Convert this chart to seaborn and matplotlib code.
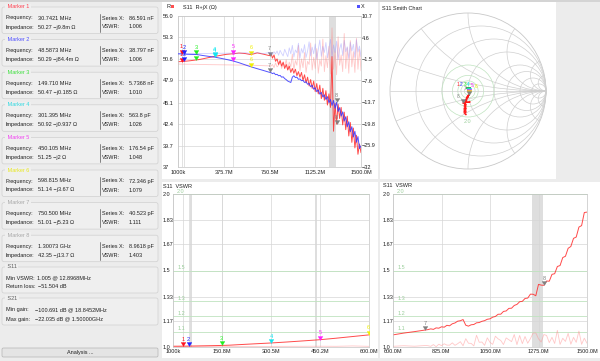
import numpy as np
import matplotlib
matplotlib.use("Agg")
import matplotlib.pyplot as plt
from matplotlib.patches import Circle, Rectangle, FancyBboxPatch
from matplotlib.path import Path
import seaborn as sns

# ---------------- data ----------------
freq_mhz = [1, 15, 30.7, 48.6, 75, 100, 125, 149.7, 175, 200, 250, 301.4, 350, 400, 450.1,
            500, 550, 598.8, 650, 700, 750.5,
            762.5, 775, 787.5, 800, 812.5, 825, 837.5, 850, 862.5, 875,
            887.5, 900, 912.5, 925, 937.5, 950, 962.5, 975, 987.5, 1000,
            1012.5, 1025, 1037.5, 1050, 1062.5, 1075, 1087.5, 1100, 1112.5, 1125,
            1137.5, 1150, 1162.5, 1175, 1187.5, 1200, 1212.5, 1225, 1237.5, 1250,
            1262.5, 1275, 1287.5, 1300, 1312.5, 1325, 1337.5, 1350, 1362.5, 1375,
            1387.5, 1400, 1412.5, 1425, 1437.5, 1450, 1462.5, 1475, 1487.5, 1500]

r_ohm = [50.25, 50.26, 50.27, 50.29, 50.33, 50.37, 50.42, 50.47, 50.52, 50.6, 50.76, 50.92, 51.05,
         51.18, 51.25, 51.34, 51.28, 51.14, 51.36, 51.2, 51.01,
         51.3, 50.7, 51.1, 50.3, 50.6, 49.9, 50.4, 49.7, 50.2, 49.4,
         49.9, 49.2, 49.7, 48.9, 49.4, 48.8, 49.3, 48.5, 49.0, 48.3,
         48.9, 47.9, 48.6, 47.6, 48.3, 47.2, 48.0, 46.9, 47.8, 46.5,
         47.5, 46.2, 47.3, 45.6, 46.9, 45.4, 46.6, 44.8, 46.2, 44.5,
         50.9, 41.5, 45.0, 42.4, 44.9, 43.1, 44.5, 42.3, 43.9, 41.7,
         43.4, 40.9, 42.6, 40.1, 41.9, 39.4, 41.0, 38.6, 39.9, 38.8]

x_ohm = [0.0, -0.005, -0.01, -0.084, -0.12, -0.15, -0.17, -0.185, -0.3, -0.45, -0.7, -0.94, -1.25,
         -1.6, -2.0, -2.5, -3.1, -3.67, -4.2, -4.7, -5.23,
         -5.3, -5.6, -5.4, -5.9, -5.8, -6.2, -6.1, -6.6, -6.5, -7.0,
         -7.3, -7.7, -7.9, -8.1, -6.6, -6.2, -6.7, -6.6, -7.2, -7.1,
         -7.6, -7.5, -8.1, -7.9, -8.6, -8.4, -9.3, -8.9, -10.0, -9.6,
         -10.7, -10.2, -11.4, -10.9, -12.2, -11.6, -12.9, -12.1, -13.8, -12.9,
         -14.6, -13.2, -15.4, -13.7, -16.3, -15.2, -17.6, -16.4, -19.0, -17.8,
         -20.6, -19.2, -22.0, -20.6, -23.5, -21.9, -25.0, -23.4, -26.8, -26.0]

# reference sweep (faint traces)
r_ref = [49.95, 49.95, 49.94, 49.94, 49.93, 49.93, 49.92, 49.92, 49.91, 49.9, 49.88, 49.87, 49.86,
         49.85, 49.84, 49.83, 49.82, 49.8, 49.78, 49.75, 49.72,
         49.7, 49.9, 49.5, 50.1, 49.6, 49.8, 50.3, 49.4, 50.0, 49.7,
         50.5, 49.3, 50.2, 49.6, 51.2, 49.2, 50.4, 49.8, 52.3, 49.1,
         50.6, 49.5, 51.4, 48.9, 50.3, 49.9, 52.6, 49.2, 50.8, 49.4,
         51.9, 48.8, 50.5, 49.7, 53.1, 49.0, 51.0, 49.5, 52.2, 48.7,
         54.5, 49.3, 51.6, 48.6, 53.4, 49.8, 51.1, 49.0, 53.8, 49.4,
         52.0, 48.8, 52.9, 49.6, 51.5, 48.9, 53.2, 49.3, 51.8, 49.1]

x_ref = [0.02, 0.03, 0.04, 0.05, 0.06, 0.07, 0.08, 0.08, 0.09, 0.1, 0.12, 0.14, 0.16,
         0.18, 0.2, 0.15, 0.3, 0.1, 0.35, 0.05, 0.4,
         0.3, -0.2, 0.6, 0.0, 0.8, -0.4, 1.0, 0.1, -0.6, 1.3,
         0.2, -0.8, 1.7, 0.0, 2.4, -0.9, 1.1, 0.3, 3.0, -1.2,
         1.5, 0.2, 2.6, -1.0, 0.8, 3.4, -0.6, 1.9, 0.0, 2.8,
         -1.4, 1.2, 3.9, -0.7, 2.1, 0.4, 3.2, -1.1, 1.6, 4.1,
         -0.9, 2.5, 0.3, 3.6, -1.6, 1.4, 2.9, -0.5, 3.8, 0.6,
         2.0, -1.3, 3.3, 0.8, 2.7, -1.0, 4.0, 0.5, 2.2, -0.8]

marker_names = ["1", "2", "3", "4", "5", "6", "7", "8"]
marker_colors = ["#ff1020", "#2020ff", "#20f020", "#10e8f0", "#ff20ff", "#f0f000", "#808080", "#808080"]
marker_title_colors = ["#ff4050", "#5050ff", "#40e040", "#30d8e0", "#f040f0", "#e8e820", "#a8a8a8", "#a8a8a8"]
marker_freq = [30.7421, 48.5873, 149.710, 301.395, 450.105, 598.815, 750.500, 1300.73]
marker_r = [50.27, 50.29, 50.47, 50.92, 51.25, 51.14, 51.01, 42.35]
marker_x = [-0.0098, -0.0844, -0.185, -0.937, -2.0, -3.67, -5.23, -13.7]
marker_vswr = [1.006, 1.006, 1.010, 1.026, 1.048, 1.079, 1.111, 1.403]
marker_freq_text = ["30.7421 MHz", "48.5873 MHz", "149.710 MHz", "301.395 MHz",
                    "450.105 MHz", "598.815 MHz", "750.500 MHz", "1.30073 GHz"]
marker_imp_text = ["50.27 \u2212j9.8m \u03a9", "50.29 \u2212j84.4m \u03a9", "50.47 \u2212j0.185 \u03a9",
                   "50.92 \u2212j0.937 \u03a9", "51.25 \u2212j2 \u03a9", "51.14 \u2212j3.67 \u03a9",
                   "51.01 \u2212j5.23 \u03a9", "42.35 \u2212j13.7 \u03a9"]
marker_series_text = ["86.591 nF", "38.797 nF", "5.7368 nF", "563.8 pF",
                      "176.54 pF", "72.346 pF", "40.523 pF", "8.9618 pF"]
marker_vswr_text = ["1.006", "1.006", "1.010", "1.026", "1.048", "1.079", "1.111", "1.403"]

rx_xticks = [1, 375.75, 750.5, 1125.25, 1500]
rx_xlabels = ["1000k", "375.7M", "750.5M", "1125.2M", "1500.0M"]
r_ticks = [37, 39.7, 42.4, 45.1, 47.9, 50.6, 53.3, 56.0]
r_labels = ["37", "39.7", "42.4", "45.1", "47.9", "50.6", "53.3", "56.0"]
x_ticks = [-32, -25.9, -19.8, -13.7, -7.6, -1.5, 4.6, 10.7]
x_labels = ["\u221232", "\u221225.9", "\u221219.8", "\u221213.7", "\u22127.6", "\u22121.5", "4.6", "10.7"]

vswr_ticks = [1.0, 1.17, 1.33, 1.5, 1.67, 1.83, 2.0]
vswr_labels = ["1.0", "1.17", "1.33", "1.5", "1.67", "1.83", "2.0"]
vswr_ref_lines = [1.1, 1.2, 1.3, 1.5, 2.0]
v1_xticks = [1, 150.75, 300.5, 450.25, 600]
v1_xlabels = ["1000k", "150.8M", "300.5M", "450.2M", "600.0M"]
v2_xticks = [600, 825, 1050, 1275, 1500]
v2_xlabels = ["600.0M", "825.0M", "1050.0M", "1275.0M", "1500.0M"]

smith_r = [0.2, 0.5, 1, 2, 3, 5, 10]
smith_x = [0.2, 0.5, 1, 2, 5, 10]

# ---------------- style ----------------
sns.set_theme(style="white")
plt.rcParams['font.family'] = ['Liberation Sans', 'DejaVu Sans']

BG = "#ececec"
BOX_FC = "#efefef"
BOX_EC = "#d0d0d0"
GRID = "#d6d6d6"
SPINE = "#c4c4c4"
GREEN = "#bfe3bf"
GREEN_TXT = "#9ccf9c"
TXT = "#202020"
FS = 4.0
W, H = 600, 361

fig = plt.figure(figsize=(6, 3.61), dpi=100, facecolor=BG)


def px_axes(x0, y0, x1, y1):
    return fig.add_axes([x0 / W, 1 - y1 / H, (x1 - x0) / W, (y1 - y0) / H])


def vswr_of(r, x):
    z = np.asarray(r) + 1j * np.asarray(x)
    g = np.abs((z - 50) / (z + 50))
    return (1 + g) / (1 - g)


def gamma_of(r, x):
    z = np.asarray(r) + 1j * np.asarray(x)
    return (z - 50) / (z + 50)


tri = Path([(-0.6, 1.0), (0.6, 1.0), (0.0, 0.0), (-0.6, 1.0)],
           [Path.MOVETO, Path.LINETO, Path.LINETO, Path.CLOSEPOLY])


def draw_markers(ax, xs, ys, idx, dx=None, fs=FS):
    for k, i in enumerate(idx):
        c = marker_colors[i]
        ax.plot([xs[i]], [ys[i]], ls="none", marker=tri, ms=5.8, mfc=c, mec=c, mew=0.2, zorder=6)
        off = 0 if dx is None else dx[k]
        ax.annotate(marker_names[i], (xs[i], ys[i]), xytext=(off, 3.2), textcoords="offset points",
                    ha="center", va="bottom", fontsize=fs, color=c, zorder=7)


def style_chart(ax, xlim, xticks, xlabels, ylim, yticks, ylabels, ypad, xpad):
    ax.set_xlim(xlim)
    ax.set_ylim(ylim)
    ax.set_xticks(xticks, xlabels)
    ax.set_yticks(yticks, ylabels, ha="left")
    ax.tick_params(axis="both", length=0, labelsize=FS, labelcolor=TXT)
    ax.tick_params(axis="y", pad=ypad)
    ax.tick_params(axis="x", pad=xpad)
    ax.set_xlabel("")
    ax.set_ylabel("")
    ax.grid(True, color=GRID, lw=0.5)
    ax.set_axisbelow(True)
    for s in ax.spines.values():
        s.set_color(SPINE)
        s.set_linewidth(0.5)


def line(ax, x, y, color, lw, alpha=1.0):
    sns.lineplot(x=x, y=y, ax=ax, color=color, linewidth=lw, alpha=alpha,
                 estimator=None, sort=False, legend=False)


vswr_main = vswr_of(r_ohm, x_ohm)
vswr_refs = vswr_of(r_ref, x_ref)

# ---------------- background + left panel ----------------
bg = fig.add_axes([0, 0, 1, 1])
bg.set_xlim(0, W)
bg.set_ylim(H, 0)
bg.axis("off")
bg.add_patch(Rectangle((0, 0), W, 1.5, fc="#d4d4d4", ec="none"))
bg.add_patch(Rectangle((162, 2), 216, 177, fc="white", ec="none"))
bg.add_patch(Rectangle((380, 2), 176, 177, fc="white", ec="none"))
bg.add_patch(Rectangle((162, 182), 216, 176, fc="white", ec="none"))


def group_box(y, h, title, tcolor):
    bg.add_patch(FancyBboxPatch((2, y), 156, h, boxstyle="round,pad=0,rounding_size=2",
                                fc=BOX_FC, ec=BOX_EC, lw=0.5))
    bg.text(5.5, y, " " + title + " ", color=tcolor, fontsize=FS, va="center", ha="left",
            bbox=dict(fc=BOX_FC, ec="none", pad=0.2))


for i in range(8):
    ty = 7 + 32.6 * i
    group_box(ty, 26.5, f"Marker {i + 1}", marker_title_colors[i])
    bg.text(6, ty + 11, "Frequency:", fontsize=FS, color=TXT, va="center")
    bg.text(37.5, ty + 11, marker_freq_text[i], fontsize=FS, color=TXT, va="center")
    bg.text(6, ty + 20, "Impedance:", fontsize=FS, color=TXT, va="center")
    bg.text(37.5, ty + 20, marker_imp_text[i], fontsize=FS, color=TXT, va="center")
    bg.plot([100, 100], [ty + 6.5, ty + 24.5], color="#707070", lw=0.6)
    bg.text(102, ty + 11, "Series X:", fontsize=FS, color=TXT, va="center")
    bg.text(129, ty + 11, marker_series_text[i], fontsize=FS, color=TXT, va="center")
    bg.text(102, ty + 20, "VSWR:", fontsize=FS, color=TXT, va="center")
    bg.text(129, ty + 20, marker_vswr_text[i], fontsize=FS, color=TXT, va="center")

group_box(267, 26, "S11", "#606060")
bg.text(6, 278, "Min VSWR:", fontsize=FS, color=TXT, va="center")
bg.text(37, 278, "1.005 @ 12.8968MHz", fontsize=FS, color=TXT, va="center")
bg.text(6, 287, "Return loss:", fontsize=FS, color=TXT, va="center")
bg.text(37.5, 287, "\u221251.504 dB", fontsize=FS, color=TXT, va="center")

group_box(298, 27, "S21", "#606060")
bg.text(6, 310, "Min gain:", fontsize=FS, color=TXT, va="center")
bg.text(35, 310, "\u2212100.691 dB @ 18.8452MHz", fontsize=FS, color=TXT, va="center")
bg.text(6, 319, "Max gain:", fontsize=FS, color=TXT, va="center")
bg.text(35, 319, "\u221222.035 dB @ 1.50000GHz", fontsize=FS, color=TXT, va="center")

bg.add_patch(FancyBboxPatch((2, 348), 156, 9, boxstyle="round,pad=0,rounding_size=1.5",
                            fc="#e4e4e4", ec="#b4b4b4", lw=0.5))
bg.text(80, 352.5, "Analysis ...", fontsize=FS, color=TXT, va="center", ha="center")

# chart headers
bg.text(166.5, 7, "R", fontsize=FS, color=TXT, va="center")
bg.add_patch(Rectangle((170.5, 5.3), 3, 3, fc="#ff5050", ec="none"))
bg.text(183, 7, "S11  R+jX (\u03a9)", fontsize=FS, color=TXT, va="center")
bg.add_patch(Rectangle((357.3, 5.3), 3, 3, fc="#5050ff", ec="none"))
bg.text(360.5, 7, "X", fontsize=FS, color=TXT, va="center")
bg.text(382, 8, "S11 Smith Chart", fontsize=FS, color=TXT, va="center")
bg.text(163, 186, "S11  VSWR", fontsize=FS, color=TXT, va="center")

# ---------------- R + jX chart ----------------
ax_rx = px_axes(178, 16, 361, 167)
ax_rx.set_facecolor("white")
for f in marker_freq[:2] + [marker_freq[4]]:
    ax_rx.axvline(f, color=GRID, lw=0.5, zorder=0.5)
ax_rx.axvspan(1238, 1294, color="#dedede", lw=0, zorder=0.4)
line(ax_rx, freq_mhz, r_ref, "#ff9090", 0.6, alpha=0.5)
line(ax_rx, freq_mhz, r_ohm, "#ff2a2a", 0.7, alpha=0.85)
style_chart(ax_rx, (1, 1500), rx_xticks, rx_xlabels, (37, 56), r_ticks, r_labels, 10.8, 2.2)
draw_markers(ax_rx, marker_freq, marker_r, range(8))

ax_x = ax_rx.twinx()
line(ax_x, freq_mhz, x_ref, "#8a8aff", 0.6, alpha=0.4)
line(ax_x, freq_mhz, x_ohm, "#3434ff", 0.7, alpha=0.85)
ax_x.set_ylim(-32, 10.7)
ax_x.set_yticks(x_ticks, x_labels)
ax_x.tick_params(axis="y", length=0, labelsize=FS, labelcolor=TXT, pad=0.7)
ax_x.set_ylabel("")
for s in ax_x.spines.values():
    s.set_visible(False)
draw_markers(ax_x, marker_freq, marker_x, range(8))

# ---------------- Smith chart ----------------
ax_s = px_axes(380, 3, 556, 178)
ax_s.set_xlim(-88 / 78, 88 / 78)
ax_s.set_ylim(-87 / 78, 88 / 78)
ax_s.axis("off")
unit = Circle((0, 0), 1, fill=False, ec="#c8c8c8", lw=0.6)
ax_s.add_patch(unit)
ax_s.plot([-1, 1], [0, 0], color="#cfcfcf", lw=0.5)
for r in smith_r:
    ax_s.add_patch(Circle((r / (1 + r), 0), 1 / (1 + r), fill=False, ec="#cfcfcf", lw=0.5))
for xv in smith_x:
    for sgn in (1, -1):
        arc = Circle((1, sgn / xv), 1 / xv, fill=False, ec="#cfcfcf", lw=0.5)
        ax_s.add_patch(arc)
        arc.set_clip_path(unit)
for v in vswr_ref_lines:
    g = (v - 1) / (v + 1)
    ax_s.add_patch(Circle((0, 0), g, fill=False, ec=GREEN, lw=0.5))
ax_s.text(0, -0.39, "2.0", fontsize=FS, color=GREEN_TXT, ha="center", va="center")
g_ref = gamma_of(r_ref, x_ref)
g_main = gamma_of(r_ohm, x_ohm)
line(ax_s, g_ref.real, g_ref.imag, "#ff9090", 0.5, alpha=0.5)
line(ax_s, g_main.real, g_main.imag, "#ff1818", 0.7)
g_mk = gamma_of(marker_r, marker_x)
# labels of the markers bunched at the centre are spread side by side
draw_markers(ax_s, list(g_mk.real), list(g_mk.imag), range(8),
             dx=[-7.5, -5.0, -2.5, 0.0, 2.5, 5.0, -3.0, -4.0], fs=3.4)
ax_s.set_xlabel("")
ax_s.set_ylabel("")

# ---------------- VSWR 1 MHz - 600 MHz ----------------
ax_v1 = px_axes(173, 194, 369, 347)
ax_v1.set_facecolor("white")
for f in marker_freq[:3]:
    ax_v1.axvline(f, color=GRID, lw=0.5, zorder=0.5)
ax_v1.axvspan(53, 58, color="#dedede", lw=0, zorder=0.4)
ax_v1.axvspan(434, 441, color="#dedede", lw=0, zorder=0.4)
for v in vswr_ref_lines:
    ax_v1.axhline(v, color=GREEN, lw=0.6, zorder=0.8)
    ax_v1.annotate(f"{v}", xy=(0, v), xycoords=("axes fraction", "data"), xytext=(3, 0.3),
                   textcoords="offset points", va="bottom", fontsize=FS, color=GREEN_TXT)
line(ax_v1, freq_mhz, vswr_refs, "#ff9090", 0.6, alpha=0.5)
line(ax_v1, freq_mhz, vswr_main, "#ff2a2a", 0.7, alpha=0.85)
style_chart(ax_v1, (1, 600), v1_xticks, v1_xlabels, (1.0, 2.0), vswr_ticks, vswr_labels, 7.2, 1.4)
draw_markers(ax_v1, marker_freq, marker_vswr, range(6))

# ---------------- VSWR 600 MHz - 1500 MHz ----------------
panel = px_axes(380, 182, 600, 358)
panel.set_xlim(380, 600)
panel.set_ylim(358, 182)
panel.axis("off")
panel.add_patch(Rectangle((380, 182), 220, 176, fc="white", ec="none"))
panel.text(383, 186, "S11  VSWR", fontsize=FS, color=TXT, va="center")

ax_v2 = px_axes(393, 194, 587, 347)
ax_v2.set_facecolor("white")
ax_v2.axvspan(1245, 1296, color="#dedede", lw=0, zorder=0.4)
for v in vswr_ref_lines:
    ax_v2.axhline(v, color=GREEN, lw=0.6, zorder=0.8)
    ax_v2.annotate(f"{v}", xy=(0, v), xycoords=("axes fraction", "data"), xytext=(3, 0.3),
                   textcoords="offset points", va="bottom", fontsize=FS, color=GREEN_TXT)
line(ax_v2, freq_mhz, vswr_refs, "#ff9090", 0.6, alpha=0.5)
line(ax_v2, freq_mhz, vswr_main, "#ff2a2a", 0.7, alpha=0.85)
style_chart(ax_v2, (600, 1500), v2_xticks, v2_xlabels, (1.0, 2.0), vswr_ticks, vswr_labels, 7.2, 1.4)
draw_markers(ax_v2, marker_freq, marker_vswr, [6, 7])

fig.savefig("out.png", dpi=100, facecolor=BG)
